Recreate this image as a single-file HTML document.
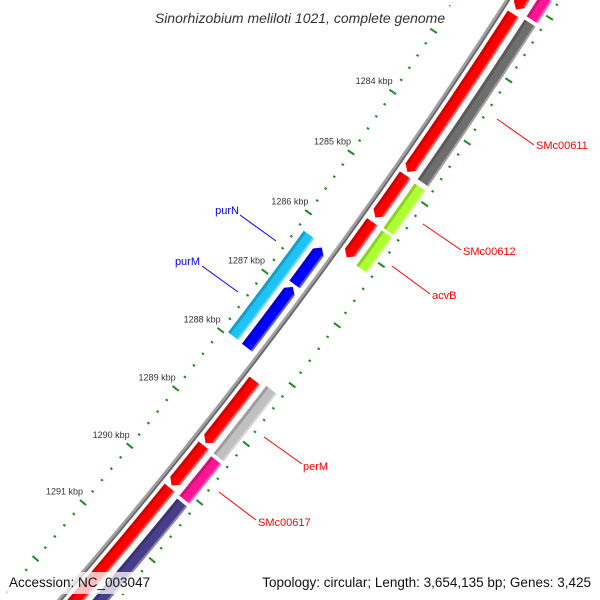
<!DOCTYPE html>
<html><head><meta charset="utf-8">
<style>
html,body{margin:0;padding:0;background:#fff;width:600px;height:600px;overflow:hidden;}
svg{display:block;font-family:"Liberation Sans",sans-serif;overflow:hidden;}
</style></head>
<body>
<svg id="map" width="600" height="600" viewBox="0 0 600 600" xmlns="http://www.w3.org/2000/svg">
<rect x="0" y="0" width="600" height="600" fill="#fff"/>
<g id="ticks"></g>
<g id="backbone"></g>
<g id="features"></g>
<g id="labels">
  <line x1="497" y1="119" x2="534" y2="145" stroke="#ff0000" stroke-width="1"/>
  <text x="536" y="149" font-size="11" fill="#ff0000">SMc00611</text>
  <line x1="423" y1="224" x2="461" y2="250" stroke="#ff0000" stroke-width="1"/>
  <text x="463" y="255" font-size="11" fill="#ff0000">SMc00612</text>
  <line x1="392" y1="266" x2="430" y2="294" stroke="#ff0000" stroke-width="1"/>
  <text x="432" y="299" font-size="11" fill="#ff0000">acvB</text>
  <line x1="264" y1="437" x2="302" y2="464" stroke="#ff0000" stroke-width="1"/>
  <text x="303" y="470" font-size="11" fill="#ff0000">perM</text>
  <line x1="219" y1="492" x2="256" y2="520" stroke="#ff0000" stroke-width="1"/>
  <text x="258" y="526" font-size="11" fill="#ff0000">SMc00617</text>
  <line x1="240" y1="215" x2="276" y2="241" stroke="#0000ff" stroke-width="1"/>
  <text x="239" y="214" font-size="11" fill="#0000ff" text-anchor="end">purN</text>
  <line x1="202" y1="266" x2="238" y2="292" stroke="#0000ff" stroke-width="1"/>
  <text x="200" y="265" font-size="11" fill="#0000ff" text-anchor="end">purM</text>
</g>
<rect x="134" y="6" width="332" height="22" fill="#fff" fill-opacity="0.8"/>
<text x="300" y="23" font-size="14" font-style="italic" fill="#333" text-anchor="middle">Sinorhizobium meliloti 1021, complete genome</text>
<rect x="5" y="572" width="130" height="22" fill="#fff" fill-opacity="0.75"/>
<text x="9" y="587" font-size="13.5" fill="#111">Accession: NC_003047</text>
<rect x="256" y="572" width="340" height="22" fill="#fff" fill-opacity="0.75"/>
<text x="591" y="587" font-size="13.5" fill="#111" text-anchor="end">Topology: circular; Length: 3,654,135 bp; Genes: 3,425</text>
</svg>
<script>
// ---- data (positions in kbp) ----
const featStart = [1281.0, 1282.22, 1284.83, 1285.60, 1288.26, 1289.37, 1290.10,
                   1280.5, 1281.80, 1282.20, 1284.85, 1285.62, 1288.22, 1289.42, 1290.15,
                   1286.28, 1286.94, 1286.24];
const featEnd   = [1282.15, 1284.78, 1285.53, 1286.19, 1289.33, 1290.06, 1293.0,
                   1281.75, 1282.15, 1284.78, 1285.58, 1286.20, 1289.37, 1290.10, 1293.0,
                   1286.90, 1287.97, 1287.96];
const featSlot  = [1,1,1,1,1,1,1, 2,2,2,2,2,2,2,2, -1,-1, -2];
const featStrand= [1,1,1,1,1,1,1, 0,0,0,0,0,0,0,0, -1,-1, 0];
const featColor = ["#ff0000","#ff0000","#ff0000","#ff0000","#ff0000","#ff0000","#ff0000",
                   "#c8c8c8","#ff1493","#6e6e6e","#adff2f","#adff2f","#c0c0c0","#ff1493","#483d8b",
                   "#0000ff","#0000ff","#1ec3f5"];
const featName  = ["red-gene-a","red-gene-b","red-gene-smc00612","red-gene-d","red-gene-e","red-gene-f","red-gene-g",
                   "grey-gene-top","pink-gene-top","gene-smc00611","gene-acvb-upper","gene-acvb","gene-perm","gene-smc00617","purple-gene",
                   "blue-gene-upper","gene-purm","gene-purn"];
const tickStart = 1279, tickEnd = 1294, tickStep = 0.2;
const majorTicks = [1284,1285,1286,1287,1288,1289,1290,1291];
const majorLabels = ["1284 kbp","1285 kbp","1286 kbp","1287 kbp","1288 kbp","1289 kbp","1290 kbp","1291 kbp"];

// ---- geometry ----
const CX=-3939, CY=-2853, TH0=34.21, DEG_PER_KBP=0.804, K0=1284;
const slotR = {"1":[5289,5302],"2":[5308,5321],"-1":[5263,5276],"-2":[5245,5258]};
function pt(r,k){const t=(TH0+(k-K0)*DEG_PER_KBP)*Math.PI/180;return [CX+r*Math.cos(t),CY+r*Math.sin(t)];}
function arcPts(r,k1,k2,n){const a=[];for(let i=0;i<=n;i++){a.push(pt(r,k1+(k2-k1)*i/n));}return a;}
function poly(points){return points.map(p=>p[0].toFixed(2)+","+p[1].toFixed(2)).join(" ");}
const NS="http://www.w3.org/2000/svg";
function band(parent,r1,r2,k1,k2,strand,color,name){
  const head=0.08;
  let b1=k1,b2=k2;
  if(strand>0) b2=Math.max(k1,k2-head);
  if(strand<0) b1=Math.min(k2,k1+head);
  const n=Math.max(4,Math.ceil((b2-b1)*20));
  let pts=arcPts(r2,b1,b2,n);
  if(strand>0) pts.push(pt((r1+r2)/2,k2));
  pts=pts.concat(arcPts(r1,b2,b1,n));
  if(strand<0) pts.push(pt((r1+r2)/2,k1));
  const p=document.createElementNS(NS,"polygon");
  p.setAttribute("points",poly(pts));
  p.setAttribute("fill",color);
  
  
  parent.appendChild(p);
  const dark=document.createElementNS(NS,"polygon");
  dark.setAttribute("points",poly(arcPts(r1+3,b1,b2,n).concat(arcPts(r1,b2,b1,n))));
  dark.setAttribute("fill","#000");dark.setAttribute("fill-opacity","0.18");
  
  
  parent.appendChild(dark);
  const lite=document.createElementNS(NS,"polygon");
  lite.setAttribute("points",poly(arcPts(r2,b1,b2,n).concat(arcPts(r2-2,b2,b1,n))));
  lite.setAttribute("fill","#fff");lite.setAttribute("fill-opacity","0.35");
  
  
  parent.appendChild(lite);
}
const bb=document.getElementById("backbone");
[[5281,5283.5,"#a0a0a0"],[5283.5,5285.5,"#6a6a6a"]].forEach((s)=>{
  const p=document.createElementNS(NS,"polygon");
  p.setAttribute("points",poly(arcPts(s[1],1279,1294,80).concat(arcPts(s[0],1294,1279,80))));
  p.setAttribute("fill",s[2]);
  
  
  bb.appendChild(p);
});
const tg=document.getElementById("ticks");
function tickLine(r1,r2,k,w,name){
  const a=pt(r1,k),b=pt(r2,k);
  const l=document.createElementNS(NS,"line");
  l.setAttribute("x1",a[0]);l.setAttribute("y1",a[1]);l.setAttribute("x2",b[0]);l.setAttribute("y2",b[1]);
  l.setAttribute("stroke","#1f8a1f");l.setAttribute("stroke-width",w);
  
  
  tg.appendChild(l);
}
for(let i=0;i<=Math.round((tickEnd-tickStart)/tickStep);i++){
  const k=tickStart+i*tickStep;
  const major=Math.abs(k-Math.round(k))<1e-6;
  if(major){tickLine(5234,5242,k,2,'major-tick-inner');tickLine(5324,5332,k,2,'major-tick-outer');}
  else{tickLine(5237,5239.5,k,2,'minor-tick-inner');tickLine(5326,5328.5,k,2,'minor-tick-outer');}
}
majorTicks.forEach((k,i)=>{
  const p=pt(5238,k);
  const t=document.createElementNS(NS,"text");
  t.setAttribute("x",(p[0]).toFixed(1));t.setAttribute("y",(p[1]-8).toFixed(1));
  t.setAttribute("font-size","9");t.setAttribute("fill","#333");t.setAttribute("text-anchor","end");
  t.textContent=majorLabels[i];
  
  
  tg.appendChild(t);
});
const fg=document.getElementById("features");
featStart.forEach((k1,i)=>{
  const r=slotR[String(featSlot[i])];
  band(fg,r[0],r[1],k1,featEnd[i],featStrand[i],featColor[i],featName[i]);
});
</script>
</body></html>
